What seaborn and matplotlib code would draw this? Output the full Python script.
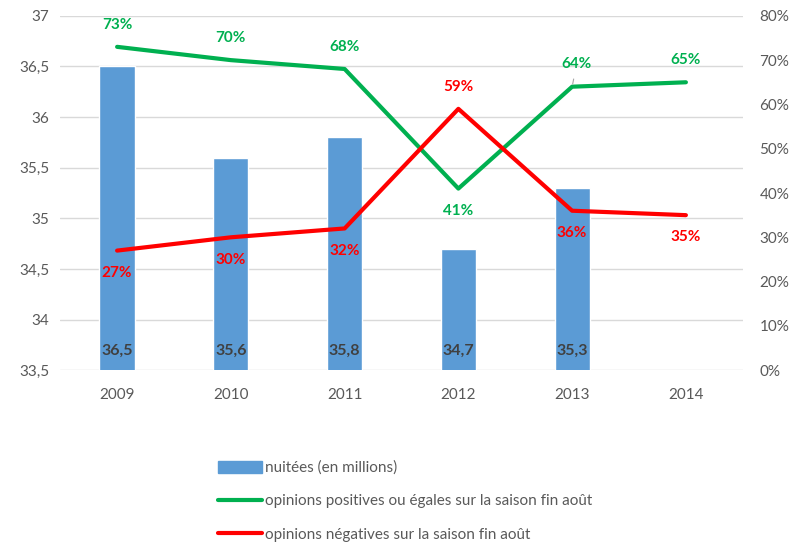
import numpy as np
import pandas as pd
import matplotlib
matplotlib.use("Agg")
import matplotlib.pyplot as plt
import matplotlib.patches as mpatches
import matplotlib.lines as mlines
import seaborn as sns

years = ["2009", "2010", "2011", "2012", "2013", "2014"]
nuitees = [36.5, 35.6, 35.8, 34.7, 35.3, np.nan]
positives = [73, 70, 68, 41, 64, 65]
negatives = [27, 30, 32, 59, 36, 35]

bar_label = "nuitées (en millions)"
pos_label = "opinions positives ou égales sur la saison fin août"
neg_label = "opinions négatives sur la saison fin août"

# label above (+1) or below (-1) the point
pos_side = [1, 1, 1, -1, 1, 1]
neg_side = [-1, -1, -1, 1, -1, -1]

blue = "#5b9bd5"
green = "#00b050"
red = "#ff0000"
grey = "#595959"

sns.set_style("white")
plt.rcParams["font.family"] = ["Lato", "DejaVu Sans"]

df = pd.DataFrame({"annee": years, "nuitees": nuitees,
                   "pos": positives, "neg": negatives})
df["x"] = np.arange(len(years))

fig = plt.figure(figsize=(8.03, 5.46), dpi=100)
ax = fig.add_axes([0.075, 0.322, 0.85, 0.649])

sns.barplot(data=df, x="annee", y="nuitees", order=years, color=blue,
            width=0.31, saturation=1, ax=ax, zorder=2)
ax.set_ylim(33.5, 37)
ax.set_yticks(np.arange(33.5, 37.01, 0.5))
ax.set_yticklabels([f"{v:g}".replace(".", ",") for v in np.arange(33.5, 37.01, 0.5)])
ax.set_xlim(-0.5, len(years) - 0.5)
ax.grid(axis="y", color="#d9d9d9", linewidth=1, zorder=0)
ax.set_axisbelow(True)
ax.set_xlabel("")
ax.set_ylabel("")
ax.tick_params(axis="both", length=0, labelsize=11, labelcolor=grey)
ax.tick_params(axis="x", pad=13)
ax.tick_params(axis="y", pad=8)
for s in ax.spines.values():
    s.set_visible(False)

for i, v in enumerate(nuitees):
    if not np.isnan(v):
        ax.annotate(f"{v:.1f}".replace(".", ","), xy=(i, 33.5), xytext=(0, 14),
                    textcoords="offset points", ha="center", va="center",
                    fontsize=11.5, fontweight="bold", color="#404040")

ax2 = ax.twinx()
sns.lineplot(data=df, x="x", y="pos", color=green, linewidth=3, ax=ax2)
sns.lineplot(data=df, x="x", y="neg", color=red, linewidth=3, ax=ax2)
ax2.set_ylim(0, 80)
ax2.set_yticks(np.arange(0, 81, 10))
ax2.set_yticklabels([f"{v}%" for v in range(0, 81, 10)])
ax2.set_xlim(-0.5, len(years) - 0.5)
ax2.set_xlabel("")
ax2.set_ylabel("")
ax2.tick_params(axis="y", length=0, labelsize=11, labelcolor=grey, pad=12)
for s in ax2.spines.values():
    s.set_visible(False)

for i, v in enumerate(positives):
    dx = 3 if years[i] == "2013" else 0
    ax2.annotate(f"{v}%", xy=(i, v), xytext=(dx, 16 * pos_side[i]),
                 textcoords="offset points", ha="center", va="center",
                 fontsize=11, fontweight="bold", color=green)
# small leader line on 2013
i13 = years.index("2013")
ax2.annotate("", xy=(i13, positives[i13]), xytext=(1.5, 7.5),
             textcoords="offset points",
             arrowprops=dict(arrowstyle="-", color="#a6a6a6", lw=0.8))
for i, v in enumerate(negatives):
    ax2.annotate(f"{v}%", xy=(i, v), xytext=(0, 16 * neg_side[i]),
                 textcoords="offset points", ha="center", va="center",
                 fontsize=11, fontweight="bold", color=red)

handles = [mpatches.Patch(color=blue, label=bar_label),
           mlines.Line2D([], [], color=green, linewidth=3, label=pos_label),
           mlines.Line2D([], [], color=red, linewidth=3, label=neg_label)]
leg = fig.legend(handles=handles, loc="upper left", bbox_to_anchor=(0.262, 0.17),
                 frameon=False, fontsize=11, handlelength=2.9, handleheight=0.8,
                 handletextpad=0.2, labelspacing=1.25, borderpad=0)
for t in leg.get_texts():
    t.set_color(grey)

plt.savefig("out.png", dpi=100)
plt.close()
